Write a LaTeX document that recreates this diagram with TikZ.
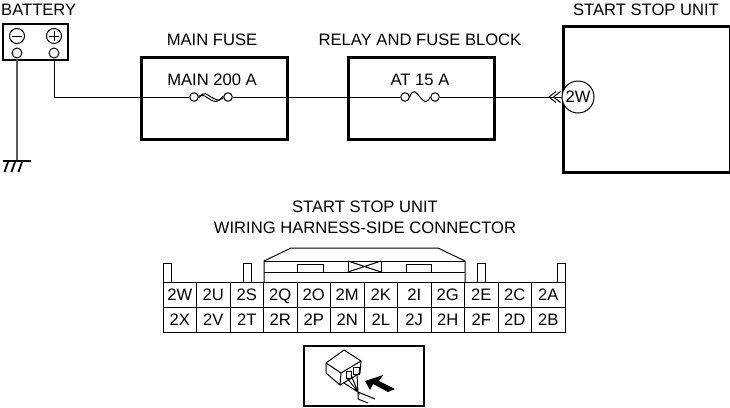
\documentclass[tikz,border=0pt]{standalone}
\usepackage{fontspec}
\setmainfont{Liberation Sans}
\usetikzlibrary{positioning}
\tikzset{
  unitbox/.style={draw, line width=2.6pt, fill=white, inner sep=0pt},
  term/.style={draw, circle, fill=white, line width=1pt, inner sep=0pt, minimum size=10pt},
  fuseterm/.style={draw, circle, fill=white, line width=1pt, inner sep=0pt, minimum size=8.5pt},
  polesign/.style={draw, circle, line width=1pt, inner sep=0pt, minimum size=15pt},
  wire/.style={line width=1pt},
  thin line/.style={line width=1pt},
  label text/.style={font=\fontsize{16.6}{19}\selectfont, inner sep=0pt},
  cell/.style={draw, line width=1pt, minimum width=33.5pt, minimum height=25pt, inner sep=0pt, text height=12pt, text depth=0pt, font=\fontsize{16.6}{19}\selectfont}
}
\begin{document}
\begin{tikzpicture}[x=1pt, y=-1pt]
    \useasboundingbox (0,0) rectangle (730,407);
    % Battery
    \node[label text, anchor=west] (battery) at (1,10) {BATTERY};
    \draw[line width=2.6pt] (3,24) rectangle (68,60);
    \node[polesign] (minus) at (17,36) {};
    \node[polesign] (plus) at (54,36) {};
    \draw[thin line] (minus.center) ++(-5,0) -- ++(10,0);
    \draw[thin line] (plus.center) ++(-5,0) -- ++(10,0);
    \draw[thin line] (plus.center) ++(0,-5) -- ++(0,10);
    \node[term] (negterm) at (17,53) {};
    \node[term] (posterm) at (54,53) {};
    % Ground
    \coordinate (gnd) at (17,161);
    \draw[line width=1.6pt, black!65] (negterm) -- (gnd);
    \draw[line width=1.8pt] (gnd) ++(-14,0) -- ++(28,0);
    \foreach \xi in {-9,-2,5}
      \draw[line width=1.8pt] (17+\xi,162) -- (17+\xi-3.5,172);
    % Boxes
    \node[unitbox, minimum width=146pt, minimum height=82pt, anchor=north west] (mainbox) at (140,56) {};
    \node[unitbox, minimum width=146pt, minimum height=82pt, anchor=north west] (relaybox) at (347,56) {};
    \node[unitbox, minimum width=167pt, minimum height=146pt, anchor=north west] (unitbox) at (562,25) {};
    \node[label text] (mainlabel) at (212,40) {MAIN FUSE};
    \node[label text] (relaylabel) at (420,40) {RELAY AND FUSE BLOCK};
    \node[label text] (unitlabel) at (646,10) {START STOP UNIT};
    \node[label text] (maintext) at (212,80) {MAIN 200 A};
    \node[label text] (relaytext) at (420,80) {AT 15 A};
    % Fuses
    \node[fuseterm] (mainin) at (194,97) {};
    \node[fuseterm] (mainout) at (228,97) {};
    \node[fuseterm] (relayin) at (405,97) {};
    \node[fuseterm] (relayout) at (435,97) {};
    \draw[wire] ([yshift=-1pt]mainin.east) .. controls (205,90) and (207,95) .. (211,97) .. controls (215,99) and (218,102) .. ([yshift=-1pt]mainout.west);
    \draw[wire] ([yshift=1pt]mainin.east) .. controls (203,93) and (207,98) .. (211,100) .. controls (215,102) and (218,103) .. ([yshift=1pt]mainout.west);
    \draw[wire] (relayin.east) .. controls (413,88) and (416,92) .. (420,97) .. controls (424,102) and (427,104) .. (relayout.west);
    % Pin
    \node[draw, circle, fill=white, line width=1pt, inner sep=0pt, minimum size=32pt, font=\fontsize{16.6}{19}\selectfont] (pin) at (578,97) {2W};
    \draw[wire] (posterm) |- (mainin);
    \draw[wire] (mainout) -- (relayin);
    \draw[wire] (relayout) -- (pin);
    \foreach \xi in {549,553.5}
      \draw[wire] (\xi+7,91.5) -- (\xi,97) -- (\xi+7,102.5);
    % Connector title
    \node[label text] (title) at (365,207) {START STOP UNIT};
    \node[label text] (subtitle) at (365,228) {WIRING HARNESS-SIDE CONNECTOR};
    % Housing
    \draw[thin line] (264,282) -- (264,261) -- (291,248) -- (438,248) -- (465,261) -- (465,282);
    \draw[thin line] (264,261) -- (465,261);
    \draw[thin line] (264,272) -- (465,272);
    \draw[thin line, fill=white] (297,272) rectangle (323,264);
    \draw[thin line, fill=white] (406,272) rectangle (431,264);
    \draw[thin line] (348,261) rectangle (381,272);
    \draw[thin line] (348,261) -- (381,272) (348,272) -- (381,261);
    % Tabs
    \foreach \xi in {163,243,477,557}
      \draw[thin line] (\xi,282) -- (\xi,263) -- (\xi+8.5,263) -- (\xi+8.5,282);
    % Cavities
    \foreach \top/\bot [count=\i from 0] in {2W/2X,2U/2V,2S/2T,2Q/2R,2O/2P,2M/2N,2K/2L,2I/2J,2G/2H,2E/2F,2C/2D,2A/2B}{
      \node[cell] (top\i) at (179.75+33.5*\i,294.5) {\top};
      \node[cell] (bot\i) at (179.75+33.5*\i,319.5) {\bot};
    }
    % View icon
    \draw[line width=1.6pt] (304,346) rectangle (424,406);
    \draw[thin line, line join=round] (326,363) -- (344,350) -- (361,361) -- (341,373) -- cycle;
    \draw[thin line, line join=round] (326,363) -- (326,373) -- (340,385) -- (341,373);
    \draw[thin line, line join=round] (340,385) -- (360,373) -- (361,361);
    \draw[thin line] (346,371) rectangle (351,378);
    \draw[thin line] (353,367) rectangle (359,374);
    \draw[thin line] (347,378) -- (358,392) -- (351,375) (344,383) -- (358,392) -- (357,375) (358,392) -- (358,399) -- (368,403) (358,392) -- (375,399);
    \fill (365,381) -- (383,375) -- (379,381) -- (395,389) -- (388,392) -- (373,384) -- (370,390) -- cycle;
  \end{tikzpicture}
\end{document}
